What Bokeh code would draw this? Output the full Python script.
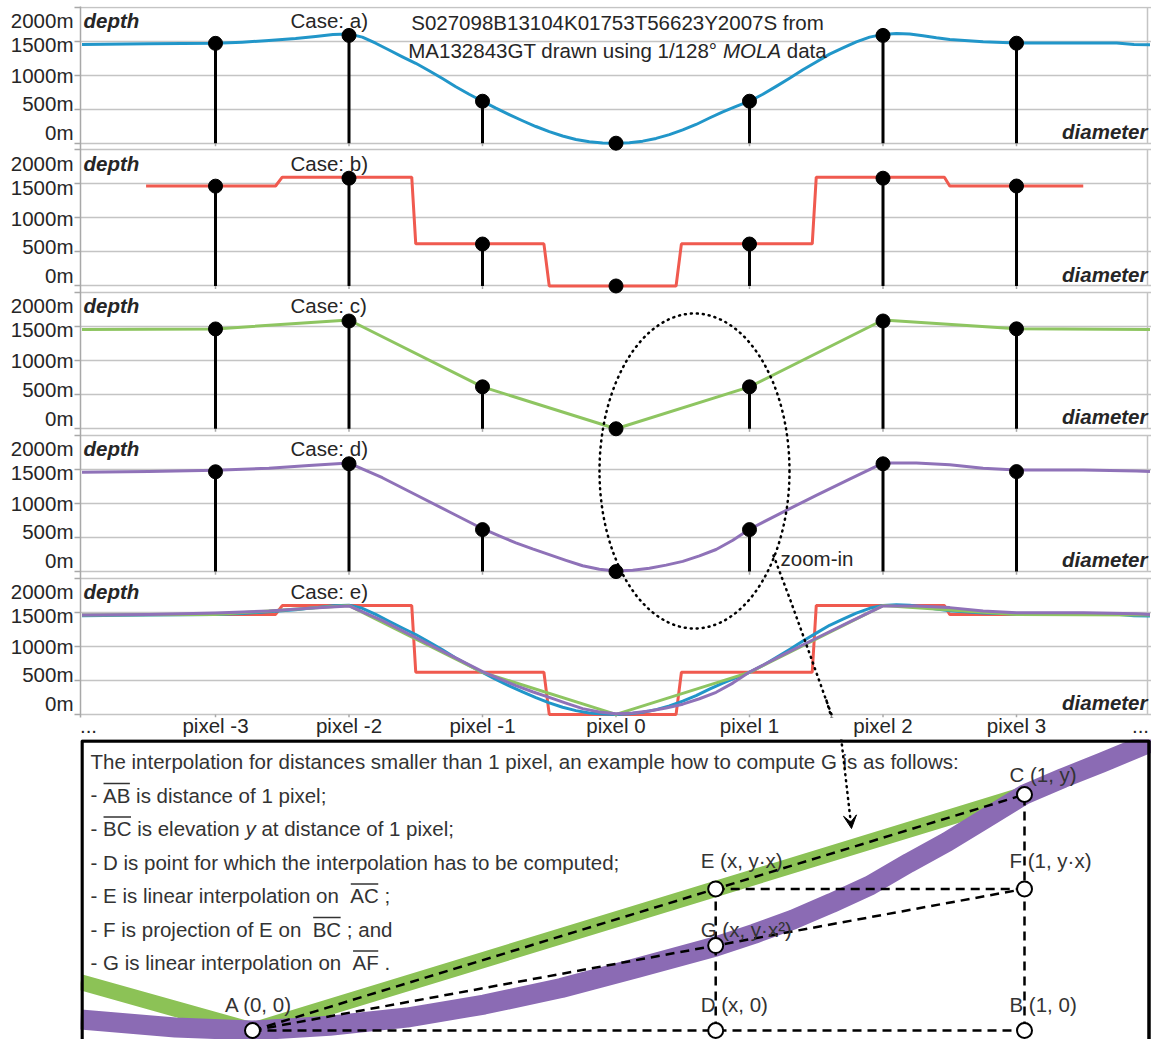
import numpy as np
from bokeh.plotting import figure
from bokeh.layouts import column
from bokeh.models import Range1d, FixedTicker, LinearAxis, Arrow, VeeHead, ColumnDataSource
from bokeh.core.properties import value
from bokeh.embed import file_html
from bokeh.resources import INLINE

# ---------------- data ----------------
pixels = [-3, -2, -1, 0, 1, 2, 3]
pixel_elev = [1468, 1585, 617, 0, 617, 1585, 1470]

# case a) MOLA profile
x_mola = [-4.0, -3.5, -3.0, -2.8, -2.6, -2.4, -2.25, -2.12, -2.0, -1.9, -1.8, -1.7, -1.6, -1.5,
          -1.4, -1.3, -1.2, -1.1, -1.0, -0.9, -0.8, -0.7, -0.6, -0.5, -0.4, -0.3, -0.2, -0.1,
          0.0, 0.1, 0.2, 0.3, 0.4, 0.5, 0.6, 0.7, 0.8, 0.9, 1.0, 1.1, 1.2, 1.3, 1.4, 1.5,
          1.6, 1.7, 1.8, 1.9, 2.0, 2.1, 2.2, 2.3, 2.4, 2.5, 2.75, 3.0, 3.5, 3.75, 3.88, 4.0]
y_mola = [1450, 1462, 1468, 1485, 1510, 1540, 1570, 1598, 1605, 1560, 1470, 1370, 1270, 1175,
          1065, 950, 830, 720, 617, 515, 420, 330, 245, 170, 105, 55, 20, 4,
          0, 8, 30, 70, 125, 195, 275, 370, 460, 540, 617, 720, 835, 955, 1080, 1195,
          1310, 1400, 1490, 1560, 1600, 1612, 1605, 1580, 1550, 1525, 1490, 1475, 1475, 1472, 1452, 1448]
# case b) nearest pixel
x_nearest = [-3.52, -2.55, -2.5, -1.53, -1.5, -0.54, -0.5, 0.45, 0.49, 1.47, 1.5, 2.46, 2.5, 3.5]
y_nearest = [1470, 1470, 1600, 1600, 620, 620, 0, 0, 620, 620, 1600, 1600, 1470, 1470]
# case c) linear
x_linear = [-4.0, -3.0, -2.0, -1.0, 0.0, 1.0, 2.0, 3.0, 4.0]
y_linear = [1460, 1468, 1600, 617, 0, 617, 1600, 1470, 1460]
# case d) quadratic
x_quad = [-4.0, -3.5, -3.0, -2.6, -2.3, -2.0, -1.75, -1.5, -1.25, -1.0, -0.875, -0.75, -0.625,
          -0.5, -0.375, -0.25, -0.125, 0.0, 0.125, 0.25, 0.375, 0.5, 0.625, 0.75, 0.875, 1.0,
          1.25, 1.5, 1.75, 2.0, 2.25, 2.5, 2.75, 3.0, 3.5, 3.9, 4.0]
y_quad = [1460, 1470, 1490, 1520, 1560, 1595, 1380, 1130, 880, 630, 525, 423, 333,
          250, 165, 85, 35, 10, 20, 50, 95, 150, 230, 325, 460, 623,
          875, 1120, 1360, 1595, 1595, 1570, 1520, 1495, 1495, 1480, 1470]

cases = ["a)", "b)", "c)", "d)", "e)"]
depth_ticks = [0, 500, 1000, 1500, 2000]
depth_labels = ["0m", "500m", "1000m", "1500m", "2000m"]
x_tick_labels = ["...", "pixel -3", "pixel -2", "pixel -1", "pixel 0", "pixel 1", "pixel 2", "pixel 3", "..."]
title_line1 = [("S027098B13104K01753T56623Y2007S from", "normal")]
title_line2 = [("MA132843GT drawn using 1/128\u00b0 ", "normal"), ("MOLA", "italic"), (" data", "normal")]

# zoom-in panel (x in pixel fraction, y relative to elevation y of C)
zoom_green_x = [-0.223, 0.0, 1.0]
zoom_green_y = [0.205, 0.0, 1.0]
zoom_purple_x = [-0.223, -0.1, 0.0, 0.1, 0.2, 0.3, 0.4, 0.5, 0.6, 0.65, 0.7, 0.75, 0.8, 0.85,
                 0.9, 0.95, 1.0, 1.05, 1.1, 1.17]
zoom_purple_y = [0.047, 0.013, 0.0, 0.02, 0.055, 0.11, 0.18, 0.267, 0.356, 0.41, 0.47, 0.54, 0.615,
                 0.71, 0.80, 0.90, 1.0, 1.07, 1.135, 1.23]
zoom_pt_names = ["A", "B", "C", "D", "E", "F", "G"]
zoom_pt_x = [0.0, 1.0, 1.0, 0.6, 0.6, 1.0, 0.6]
zoom_pt_y = [0.0, 0.0, 1.0, 0.0, 0.6, 0.6, 0.36]
zoom_pt_labels = ["A (0, 0)", "B (1, 0)", "C (1, y)", "D (x, 0)", "E (x, y\u00b7x)", "F (1, y\u00b7x)", "G (x, y\u00b7x\u00b2)"]
zoom_dashed = [("A", "C"), ("A", "F"), ("A", "B"), ("D", "E"), ("E", "F"), ("B", "C")]
zoom_text = [
    [("The interpolation for distances smaller than 1 pixel, an example how to compute G is as follows:", "n")],
    [("- ", "n"), ("AB", "o"), (" is distance of 1 pixel;", "n")],
    [("- ", "n"), ("BC", "o"), (" is elevation ", "n"), ("y", "i"), (" at distance of 1 pixel;", "n")],
    [("- D is point for which the interpolation has to be computed;", "n")],
    [("- E is linear interpolation on  ", "n"), ("AC", "o"), (" ;", "n")],
    [("- F is projection of E on  ", "n"), ("BC", "o"), (" ; and", "n")],
    [("- G is linear interpolation on  ", "n"), ("AF", "o"), (" .", "n")],
]

# ---------------- style ----------------
FONT = "Liberation Sans"
FS = 20.5
FSs = "20.5px"
TXT = "#262626"
ZTXT = "#333333"
GRID = "#c4c4c4"
AXC = "#a8a8a8"
BLUE, RED, GREEN, PURPLE = "#2196c9", "#f05a4f", "#8ec561", "#8f72b8"
ZGREEN, ZPURPLE = "#8cc256", "#8b6bb4"

# Arial / Liberation Sans advance widths (1/1000 em)
AW = {' ': 278, '!': 278, '(': 333, ')': 333, ',': 278, '-': 333, '.': 278, '/': 278, ':': 278,
      ';': 278, '\u00b0': 400, '\u00b7': 278, '\u00b2': 333}
for ch in '0123456789':
    AW[ch] = 556
AW.update(dict(A=667, B=667, C=722, D=722, E=667, F=611, G=778, H=722, I=278, J=500, K=667, L=556,
               M=833, N=722, O=778, P=667, Q=778, R=722, S=667, T=611, U=722, V=667, W=944, X=667,
               Y=667, Z=611))
AW.update(dict(a=556, b=556, c=500, d=556, e=556, f=278, g=556, h=556, i=222, j=222, k=500, l=222,
               m=833, n=556, o=556, p=556, q=556, r=333, s=500, t=278, u=556, v=500, w=722, x=500,
               y=500, z=500))


def tw(s):
    return sum(AW.get(ch, 556) for ch in s) * FS / 1000.0


def put_text(fig, xs, ys, texts, align="left", style="normal", xoff=None, yoff=None, color=TXT):
    n = len(xs)
    src = ColumnDataSource(dict(x=list(xs), y=list(ys), t=list(texts),
                                xo=list(xoff) if xoff is not None else [0] * n,
                                yo=list(yoff) if yoff is not None else [0] * n))
    fig.text(x="x", y="y", text="t", x_offset="xo", y_offset="yo", source=src,
             text_font=value(FONT), text_font_size=FSs, text_color=color,
             text_align=align, text_baseline="middle", text_font_style=style)


def put_pieces(fig, x, y, parts, start, color=TXT):
    """left-aligned run of styled pieces; returns [(x_px_start, x_px_end)] of overlined pieces"""
    cur = start
    spans = []
    for s, st in parts:
        lead = len(s) - len(s.lstrip(" "))
        body = s.strip(" ")
        x0 = cur + tw(s[:lead])
        style = "italic" if st in ("i", "italic") else "normal"
        if body:
            put_text(fig, [x], [y], [body], style=style, xoff=[x0], color=color)
        if st == "o":
            spans.append((x0, x0 + tw(body)))
        cur += tw(s)
    return spans


# ---------------- top figure (five stacked cases) ----------------
FL, FT, FW, FH = 80, 6, 1071, 711
PXU = 133.5                 # screen px per pixel step
MPX = 0.068                 # screen px per metre
X0 = -4.0 - 1.5 / PXU
X1 = X0 + FW / PXU
Y1 = 10410.0
Y0 = Y1 - FH / MPX
PERIOD = 2100.0
offsets = [4 * PERIOD, 3 * PERIOD, 2 * PERIOD, PERIOD, 0.0]


def tx(px):
    return X0 + (px - FL) * (X1 - X0) / FW


def ty(py):
    return Y1 - (py - FT) * (Y1 - Y0) / FH


p = figure(frame_width=FW, frame_height=FH, x_range=Range1d(X0, X1), y_range=Range1d(Y0, Y1),
           y_axis_location=None, min_border_left=FL, min_border_right=0, min_border_top=FT,
           min_border_bottom=0, output_backend="svg", toolbar_location=None,
           outline_line_color=None, background_fill_color="white")

grid_ticks = [off + t for off in offsets for t in depth_ticks]
p.ygrid.ticker = FixedTicker(ticks=grid_ticks)
p.ygrid.grid_line_color = GRID
p.ygrid.grid_line_width = 1.5
p.xgrid.visible = False

ax_t = LinearAxis(ticker=FixedTicker(ticks=grid_ticks),
                  major_label_overrides={float(t): "" for t in grid_ticks},
                  major_label_text_font_size="1px", major_label_standoff=0,
                  major_tick_in=0, major_tick_out=6, major_tick_line_color=AXC,
                  major_tick_line_width=1.5, axis_line_color=AXC, axis_line_width=1.5,
                  minor_tick_line_color=None)
p.add_layout(ax_t, "left")

label_drop = [157, 585, 998, 1455, 1808]
lab_pos, lab_txt = [], []
for off in offsets:
    for d, lab in zip(label_drop, depth_labels):
        lab_pos.append(float(off + d))
        lab_txt.append(lab)
ax_l = LinearAxis(ticker=FixedTicker(ticks=lab_pos),
                  major_label_overrides=dict(zip(lab_pos, lab_txt)),
                  major_tick_in=0, major_tick_out=0, major_tick_line_color=None,
                  axis_line_color=None, minor_tick_line_color=None, major_label_standoff=1,
                  major_label_text_font=FONT, major_label_text_font_size=FSs,
                  major_label_text_color=TXT)
p.add_layout(ax_l, "left")

xlab_pos = [round(tx(88), 4)] + [float(v) for v in pixels] + [round(tx(1140), 4)]
p.xaxis.ticker = FixedTicker(ticks=xlab_pos)
p.xaxis.major_label_overrides = dict(zip(xlab_pos, x_tick_labels))
p.xaxis.major_tick_in = 0
p.xaxis.major_tick_out = 0
p.xaxis.major_tick_line_color = None
p.xaxis.minor_tick_line_color = None
p.xaxis.axis_line_color = None
p.xaxis.major_label_standoff = -4
p.xaxis.major_label_text_line_height = 0.9
p.xaxis.major_label_text_font = FONT
p.xaxis.major_label_text_font_size = FSs
p.xaxis.major_label_text_color = TXT

# panel frames: ticks along 0m line, right border
xr = tx(1147)
for off in offsets:
    p.segment(x0=pixels, y0=[off] * 7, x1=pixels, y1=[off - 45] * 7, line_color=AXC, line_width=1.5)
    p.segment(x0=[xr], y0=[off], x1=[xr], y1=[off + 2000], line_color=GRID, line_width=1.5)

oa, ob, oc, od, oe = offsets


def sh(vals, off):
    return [v + off for v in vals]


p.line(x_mola, sh(y_mola, oa), line_color=BLUE, line_width=3, line_join="round")
p.line(x_nearest, sh(y_nearest, ob), line_color=RED, line_width=3)
p.line(x_linear, sh(y_linear, oc), line_color=GREEN, line_width=3)
p.line(x_quad, sh(y_quad, od), line_color=PURPLE, line_width=3, line_join="round")
# case e) all combined
p.line(list(np.clip(x_nearest, -3, 3)), sh(y_nearest, oe), line_color=RED, line_width=3)
p.line(x_mola, sh(y_mola, oe), line_color=BLUE, line_width=3, line_join="round")
p.line(x_linear, sh(y_linear, oe), line_color=GREEN, line_width=3)
p.line(x_quad, sh(y_quad, oe), line_color=PURPLE, line_width=3, line_join="round")

for off in offsets[:4]:
    p.segment(x0=pixels, y0=[off] * 7, x1=pixels, y1=sh(pixel_elev, off), line_color="black", line_width=3)
    p.scatter(pixels, sh(pixel_elev, off), size=14, color="black")

# panel texts
put_text(p, [tx(83)] * 5, [o + 1808 for o in offsets], ["depth"] * 5, style="bold italic")
put_text(p, [tx(290)] * 5, [o + 1808 for o in offsets], ["Case: " + c for c in cases])
put_text(p, [tx(1147)] * 5, [o + 175 for o in offsets], ["diameter"] * 5, align="right", style="bold italic")

# title of case a (centred runs)
for parts, yy in ((title_line1, oa + 1780), (title_line2, oa + 1370)):
    wtot = sum(tw(s) for s, _ in parts)
    put_pieces(p, tx(617), yy, parts, -wtot / 2.0)

# zoom-in ellipse and arrow
p.ellipse(x=[tx(694)], y=[ty(470.5)], width=190 * (X1 - X0) / FW, height=315 * (Y1 - Y0) / FH,
          fill_color=None, line_color="black", line_width=2.5, line_dash="1 5", line_cap="round")
put_text(p, [tx(780)], [ty(558)], ["zoom-in"])
p.line([tx(773), tx(790), tx(808), tx(824), tx(834)], [ty(555), ty(600), ty(650), ty(695), ty(722)],
       line_color="black", line_width=2.5, line_dash="1 5", line_cap="round")
p.add_layout(Arrow(x_start=tx(826), y_start=ty(700), x_end=tx(841), y_end=ty(752), end=None,
                   line_color="black", line_width=2.5, line_dash="1 5", line_cap="round"))

# ---------------- bottom figure (zoom-in explanation) ----------------
BH = 300
BT = 740           # expected page y of the bottom frame top
UX, UY = 772.0, 236.0
ZX0 = (80 - 252) / UX
ZX1 = ZX0 + FW / UX
ZY1 = (1031 - BT) / UY
ZY0 = ZY1 - BH / UY


def bx(px):
    return ZX0 + (px - 80) / UX


def by(py):
    return ZY1 - (py - BT) / UY


q = figure(frame_width=FW, frame_height=BH, x_range=Range1d(ZX0, ZX1), y_range=Range1d(ZY0, ZY1),
           x_axis_location=None, y_axis_location=None, min_border_left=FL, min_border_right=0,
           min_border_top=0, min_border_bottom=0, output_backend="svg", toolbar_location=None,
           outline_line_color=None, background_fill_color="white")
q.xgrid.visible = False
q.ygrid.visible = False

q.line(zoom_green_x, zoom_green_y, line_color=ZGREEN, line_width=16)
q.line(zoom_purple_x, zoom_purple_y, line_color=ZPURPLE, line_width=20, line_join="round")

pt = dict(zip(zoom_pt_names, zip(zoom_pt_x, zoom_pt_y)))
q.segment(x0=[pt[a][0] for a, b in zoom_dashed], y0=[pt[a][1] for a, b in zoom_dashed],
          x1=[pt[b][0] for a, b in zoom_dashed], y1=[pt[b][1] for a, b in zoom_dashed],
          line_color="black", line_width=2.5, line_dash="9 6")
q.scatter(zoom_pt_x, zoom_pt_y, size=15, fill_color="white", line_color="black", line_width=2)

lab_dx = {"A": 6, "B": -15, "C": -15, "D": -15, "E": -15, "F": -15, "G": -15}
lab_dy = {"A": -26, "B": -26, "C": -20, "D": -26, "E": -28, "F": -28, "G": -16}
for nme, lab, x, y in zip(zoom_pt_names, zoom_pt_labels, zoom_pt_x, zoom_pt_y):
    put_text(q, [x], [y], [lab], align="center" if nme == "A" else "left",
             xoff=[lab_dx[nme]], yoff=[lab_dy[nme]], color=ZTXT)

# explanation text with overlined segment names
for i, line in enumerate(zoom_text):
    cy = 762 + i * 33.5
    spans = put_pieces(q, bx(90), by(cy), line, 0.0, color=ZTXT)
    for a, b in spans:
        yo = by(cy - 11.5)
        q.segment(x0=[bx(90 + a + 0.5)], y0=[yo], x1=[bx(90 + b - 0.5)], y1=[yo],
                  line_color=ZTXT, line_width=1.5)

# box border (left, top, right)
q.line([bx(81.5), bx(81.5), bx(1148.5), bx(1148.5)], [by(1070), by(741.5), by(741.5), by(1070)],
       line_color="black", line_width=3.5)

q.add_layout(Arrow(x_start=bx(840), y_start=by(733), x_end=bx(851), y_end=by(829),
                   end=VeeHead(size=13, fill_color="black", line_color="black"),
                   line_color="black", line_width=2.5, line_dash="1 5", line_cap="round"))

layout = column(p, q, spacing=0)
open("out.html", "w").write(file_html(layout, INLINE))
